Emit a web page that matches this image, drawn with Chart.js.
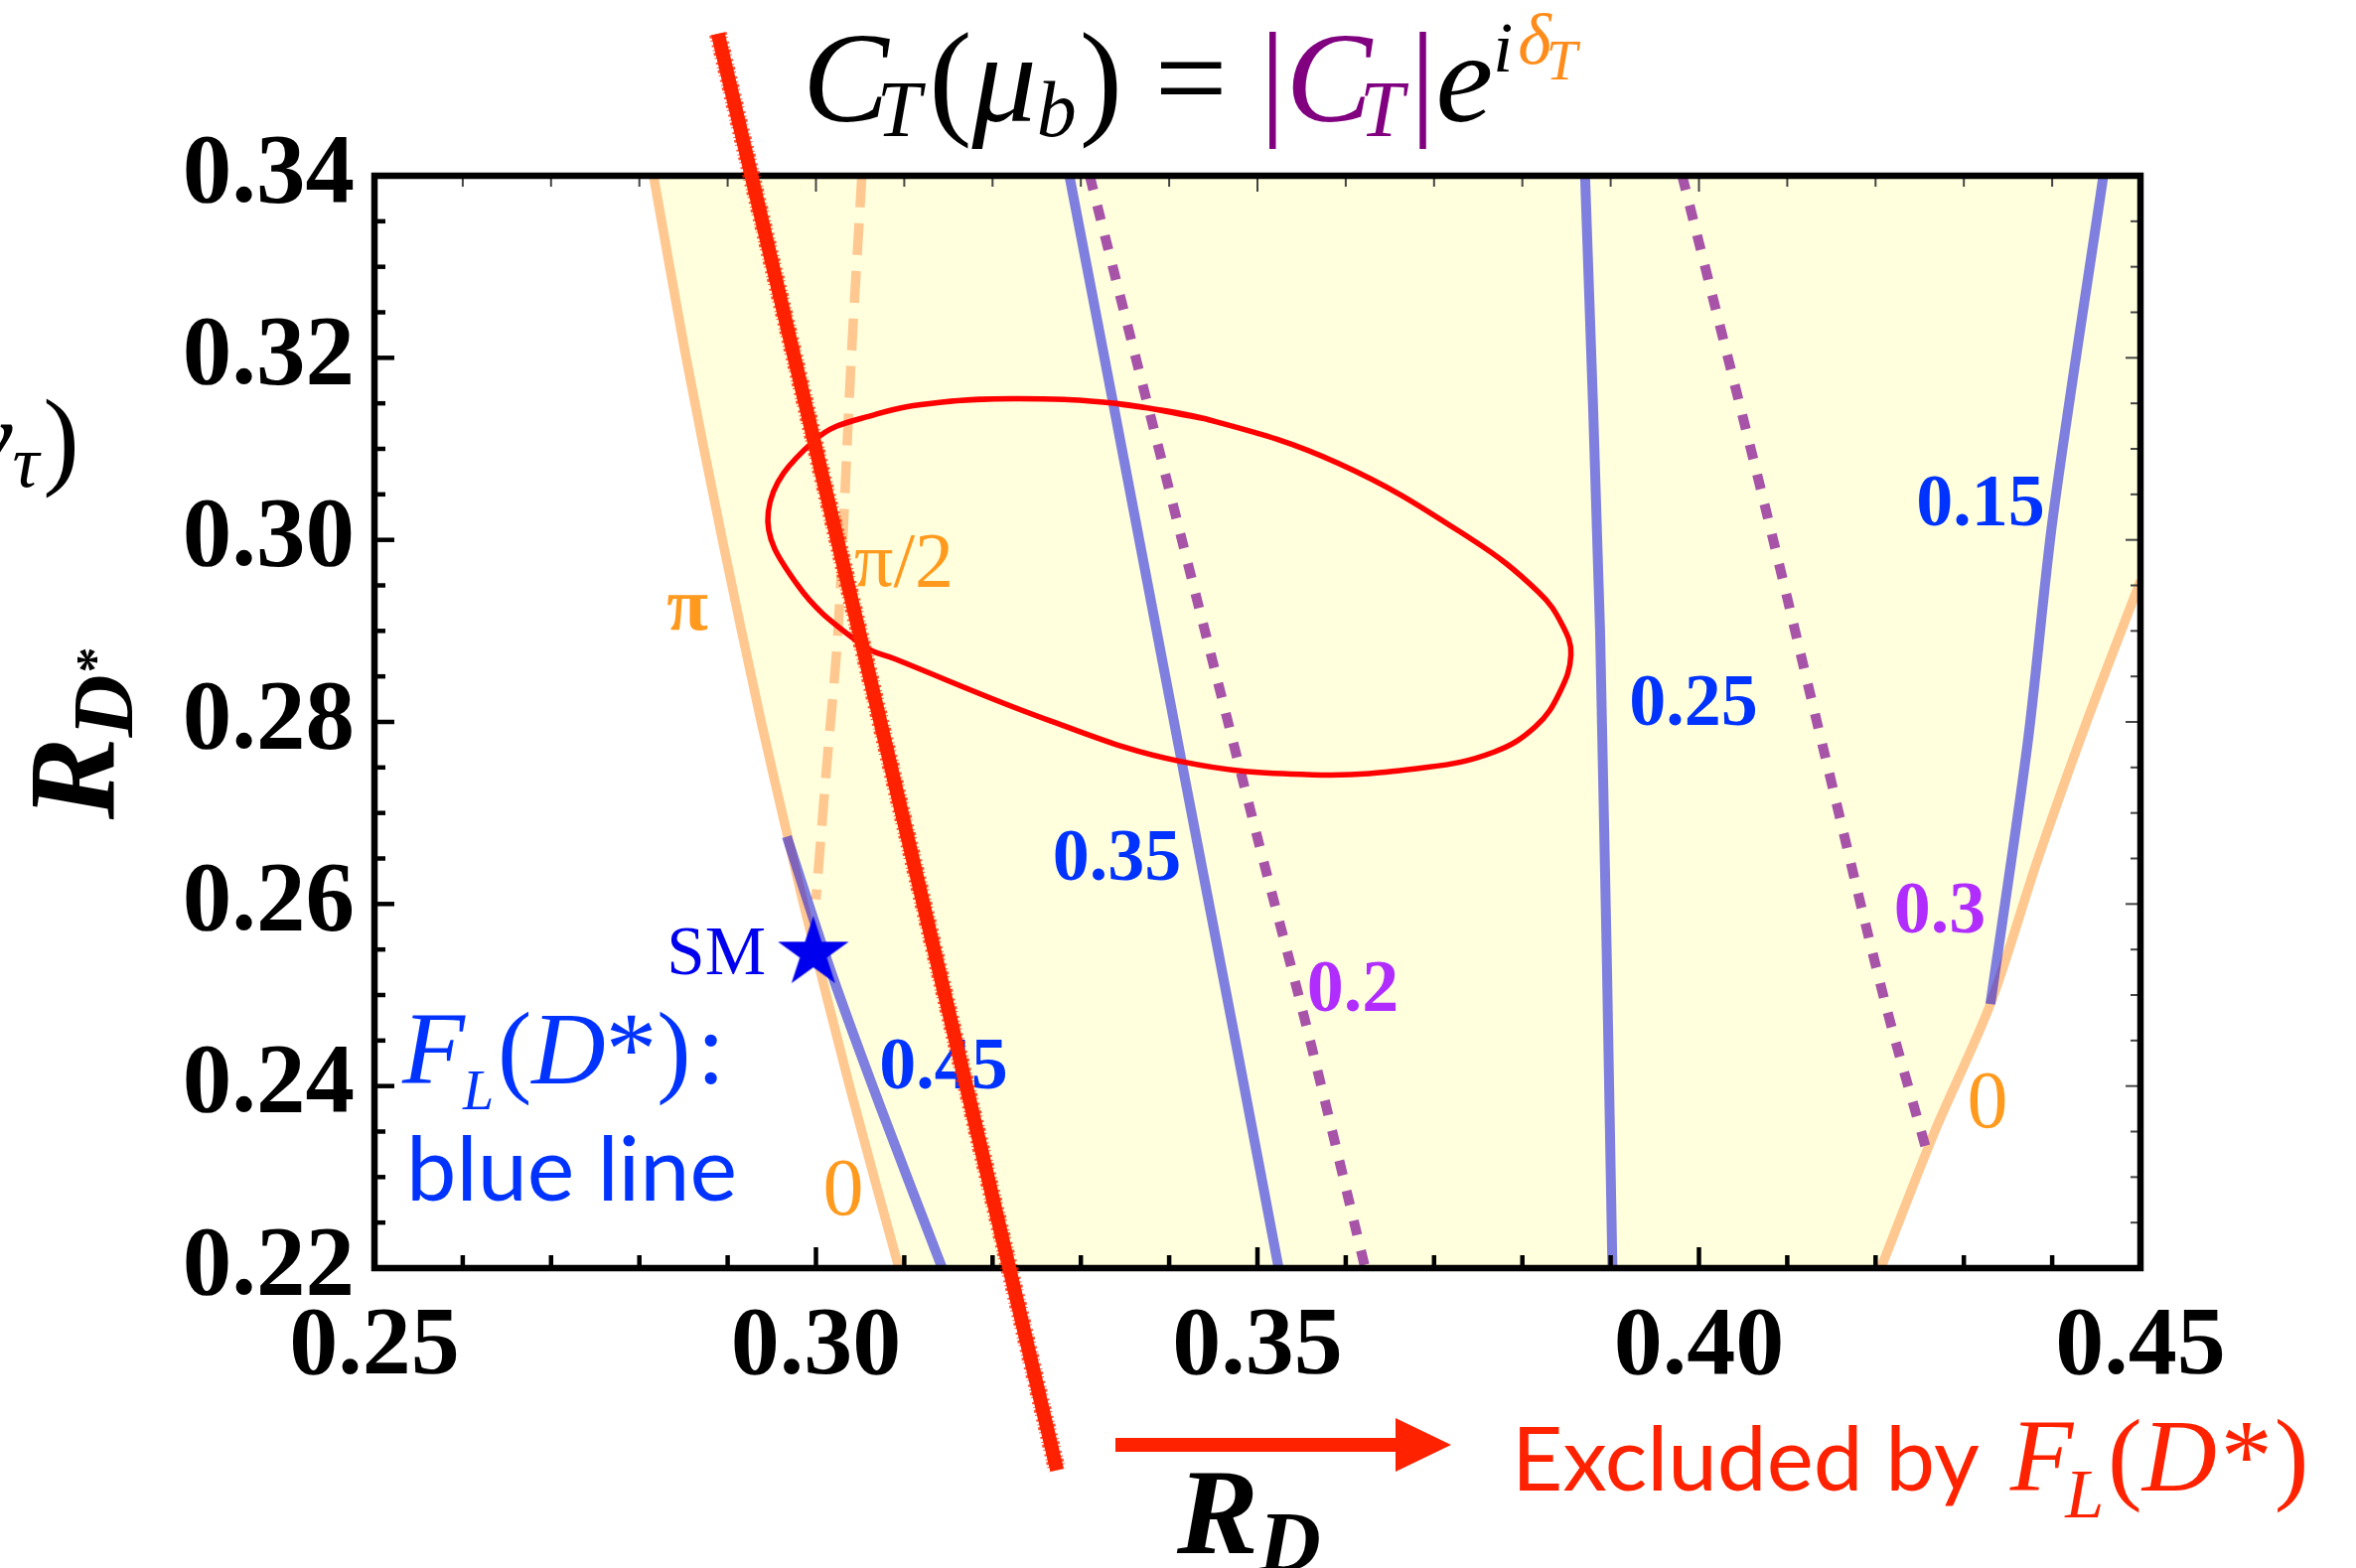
<!DOCTYPE html>
<html>
<head>
<meta charset="utf-8">
<title>C_T contours in the R_D – R_D* plane</title>
<script src="https://cdn.jsdelivr.net/npm/chart.js@4.4.1/dist/chart.umd.min.js"></script>
<style>
  html, body { margin: 0; padding: 0; background: #ffffff; }
  canvas { display: block; }
</style>
</head>
<body>
<canvas id="chart" width="2372" height="1579"></canvas>
<script>
// ---------------------------------------------------------------------------
// Axis ranges
const RD_RANGE  = [0.25, 0.45];
const RDS_RANGE = [0.22, 0.34];

// Phase contours of delta_T (orange)
// left branch (delta_T = pi, continuing to 0 at the bottom)
const PHASE_LEFT_RD   = [0.2816, 0.2853, 0.2894, 0.2938, 0.2968, 0.2986, 0.3038, 0.3094];
const PHASE_LEFT_RDS  = [0.3400, 0.3200, 0.3000, 0.2800, 0.2674, 0.2600, 0.2400, 0.2200];
// right branch (delta_T = 0)
const PHASE_RIGHT_RD  = [0.4206, 0.4267, 0.4330, 0.4384, 0.4439, 0.4500];
const PHASE_RIGHT_RDS = [0.2200, 0.2350, 0.2490, 0.2650, 0.2800, 0.2955];
// delta_T = pi/2
const PHASE_HALF_RD   = [0.3052, 0.3040, 0.3025, 0.3012, 0.3000];
const PHASE_HALF_RDS  = [0.3400, 0.3200, 0.2900, 0.2750, 0.2605];

// F_L(D*) contours (blue)
const FL_LEVELS = [0.45, 0.35, 0.25, 0.15];
const FL_045_RD  = [0.2967, 0.3018, 0.3073, 0.3143];
const FL_045_RDS = [0.2674, 0.2523, 0.2377, 0.2200];
const FL_035_RD  = [0.3287, 0.3337, 0.3414, 0.3477, 0.3524];
const FL_035_RDS = [0.3400, 0.3148, 0.2757, 0.2440, 0.2200];
const FL_025_RD  = [0.3871, 0.3888, 0.3902];
const FL_025_RDS = [0.3400, 0.2900, 0.2200];
const FL_015_RD  = [0.4458, 0.4401, 0.4372, 0.4330];
const FL_015_RDS = [0.3400, 0.3026, 0.2775, 0.2490];

// |C_T| contours (purple, dotted)
const CT_LEVELS = [0.2, 0.3];
const CT_02_RD  = [0.3310, 0.3381, 0.3501, 0.3557, 0.3622];
const CT_02_RDS = [0.3400, 0.3128, 0.2669, 0.2460, 0.2200];
const CT_03_RD  = [0.3981, 0.4074, 0.4143, 0.4211, 0.4261];
const CT_03_RDS = [0.3400, 0.3040, 0.2762, 0.2491, 0.2318];

// Measured R_D – R_D* contour (red ellipse), traced clockwise from its left end
const MEAS_RD  = [0.2946, 0.2998, 0.3068, 0.3140, 0.3231, 0.3340, 0.3441, 0.3592, 0.3742,
                  0.3818, 0.3845, 0.3855, 0.3842, 0.3815, 0.3768, 0.3691, 0.3562, 0.3411,
                  0.3266, 0.3090, 0.3053, 0.2978];
const MEAS_RDS = [0.3031, 0.3109, 0.3138, 0.3151, 0.3155, 0.3150, 0.3133, 0.3084, 0.3001,
                  0.2943, 0.2907, 0.2874, 0.2832, 0.2795, 0.2767, 0.2750, 0.2742, 0.2757,
                  0.2801, 0.2869, 0.2884, 0.2952];

// F_L(D*) exclusion boundary (thick red line)
const EXCL_RD  = [0.2889, 0.3273];
const EXCL_RDS = [0.3556, 0.1978];

// Standard Model point
const SM_RD  = 0.2997;
const SM_RDS = 0.2546;

// Phase labels
const PHASE_LABELS = ['π', 'π/2', '0', '0'];

// ---------------------------------------------------------------------------
const SERIF = '"Liberation Serif", "Times New Roman", serif';
const SANS  = 'Lato, "Open Sans", sans-serif';

const pts = (xs, ys) => xs.map((v, i) => ({ x: v, y: ys[i] }));
const isMultiple = (v, step) => Math.abs(v / step - Math.round(v / step)) < 1e-6;

// allowed region: left branch down, along the bottom, right branch up, top-right corner
const allowedRegion = [
  ...pts(PHASE_LEFT_RD, PHASE_LEFT_RDS),
  ...pts(PHASE_RIGHT_RD, PHASE_RIGHT_RDS),
  { x: RD_RANGE[1], y: RDS_RANGE[1] }
];

// closed ellipse path: start and finish on the flat top so the spline seam is invisible
const ellipsePts = pts(MEAS_RD, MEAS_RDS);
const SEAM = 5;
const ellipseClosed = [
  ...ellipsePts.slice(SEAM), ...ellipsePts.slice(0, SEAM),
  ellipsePts[SEAM], ellipsePts[SEAM + 1]
];

function starImage(R, color) {
  const size = Math.ceil(2 * R + 4);
  const c = document.createElement('canvas');
  c.width = size; c.height = size;
  const g = c.getContext('2d');
  const cx = size / 2, cy = size / 2, r = R * 0.382;
  g.fillStyle = color;
  g.beginPath();
  for (let i = 0; i < 10; i++) {
    const ang = -Math.PI / 2 + i * Math.PI / 5;
    const rr = i % 2 ? r : R;
    g.lineTo(cx + rr * Math.cos(ang), cy + rr * Math.sin(ang));
  }
  g.closePath();
  g.fill();
  return c;
}

function lineDs(data, color, width, dash, order, extra) {
  return Object.assign({
    data, showLine: true, borderColor: color, borderWidth: width,
    borderDash: dash || [], pointRadius: 0, pointHoverRadius: 0,
    tension: 0.3, fill: false, order, borderCapStyle: 'butt', borderJoinStyle: 'round'
  }, extra || {});
}

const BLUE_LINE = 'rgba(0, 0, 225, 0.5)';
const PURPLE_DOT = '#A653A8';
const ORANGE_LINE = 'rgb(255, 200, 145)';
const EXCL_RED = '#FF2200';

const datasets = [
  // 0: exclusion boundary, allowed past the frame
  lineDs(pts(EXCL_RD, EXCL_RDS), EXCL_RED, 14, null, 0, { tension: 0, clip: false }),
  // 1: frayed edge of the boundary stroke
  lineDs(pts(EXCL_RD, EXCL_RDS), 'rgba(255, 34, 0, 0.75)', 18, [3, 2, 1, 4, 2, 3, 1, 2], -1,
         { tension: 0, clip: false }),
  // 2: SM point
  { data: [{ x: SM_RD, y: SM_RDS }], showLine: false, pointStyle: starImage(37.5, '#0000EE'),
    pointRadius: 20, pointHoverRadius: 20, order: 1 },
  // 3: measurement ellipse
  lineDs(ellipseClosed, '#FF0000', 5.5, null, 2, { tension: 0.4 }),
  // F_L(D*) contours
  lineDs(pts(FL_045_RD, FL_045_RDS), BLUE_LINE, 10, null, 3),
  lineDs(pts(FL_035_RD, FL_035_RDS), BLUE_LINE, 10, null, 3),
  lineDs(pts(FL_025_RD, FL_025_RDS), BLUE_LINE, 10, null, 3),
  lineDs(pts(FL_015_RD, FL_015_RDS), BLUE_LINE, 10, null, 3),
  // |C_T| contours
  lineDs(pts(CT_02_RD, CT_02_RDS), PURPLE_DOT, 10, [15, 16], 4),
  lineDs(pts(CT_03_RD, CT_03_RDS), PURPLE_DOT, 10, [15, 16], 4),
  // phase contours
  lineDs(pts(PHASE_HALF_RD, PHASE_HALF_RDS), ORANGE_LINE, 9.5, [32, 16], 5),
  lineDs(pts(PHASE_LEFT_RD, PHASE_LEFT_RDS), ORANGE_LINE, 9.5, null, 6),
  lineDs(pts(PHASE_RIGHT_RD, PHASE_RIGHT_RDS), ORANGE_LINE, 9.5, null, 6),
  // allowed region
  { data: allowedRegion, showLine: true, fill: 'shape', backgroundColor: '#FFFFDD',
    borderColor: 'rgba(0,0,0,0)', borderWidth: 0, pointRadius: 0, tension: 0, order: 7 }
];

// ---------------------------------------------------------------------------
// text helpers
function drawRuns(ctx, x, y, runs, align) {
  ctx.textBaseline = 'alphabetic';
  ctx.textAlign = 'left';
  let w = 0;
  for (const r of runs) { ctx.font = r.f; w += ctx.measureText(r.t).width + (r.dx || 0); }
  let cx = align === 'center' ? x - w / 2 : align === 'right' ? x - w : x;
  for (const r of runs) {
    ctx.font = r.f;
    cx += (r.dx || 0);
    ctx.fillStyle = r.c || '#000';
    ctx.fillText(r.t, cx, y + (r.dy || 0));
    cx += ctx.measureText(r.t).width;
  }
}

// contour label anchors: [text, R_D, R_D*, font, colour]  (centre x, baseline y)
const LABEL_BLUE = '#0033FF';
const LABEL_PURPLE = '#B02CFF';
const LABEL_ORANGE = '#FF9A1E';
const contourLabels = [
  [FL_LEVELS[0].toFixed(2), 0.31446, 0.23975, `bold 74px ${SERIF}`, LABEL_BLUE],
  [FL_LEVELS[1].toFixed(2), 0.33409, 0.26265, `bold 74px ${SERIF}`, LABEL_BLUE],
  [FL_LEVELS[2].toFixed(2), 0.39939, 0.27967, `bold 74px ${SERIF}`, LABEL_BLUE],
  [FL_LEVELS[3].toFixed(2), 0.43190, 0.30160, `bold 74px ${SERIF}`, LABEL_BLUE],
  [String(CT_LEVELS[0]), 0.36080, 0.24826, `bold 74px ${SERIF}`, LABEL_PURPLE],
  [String(CT_LEVELS[1]), 0.42728, 0.25687, `bold 74px ${SERIF}`, LABEL_PURPLE],
  [PHASE_LABELS[0], 0.28543, 0.29015, `bold 76px ${SERIF}`, LABEL_ORANGE],
  [PHASE_LABELS[1], 0.30996, 0.29495, `78px ${SERIF}`, LABEL_ORANGE],
  [PHASE_LABELS[2], 0.30310, 0.22589, `82px ${SERIF}`, LABEL_ORANGE],
  [PHASE_LABELS[3], 0.43268, 0.23549, `82px ${SERIF}`, LABEL_ORANGE]
];

function strokeLine(ctx, x1, y1, x2, y2) {
  ctx.beginPath(); ctx.moveTo(x1, y1); ctx.lineTo(x2, y2); ctx.stroke();
}

const decorations = {
  id: 'decorations',
  beforeDatasetDraw(chart, args) {
    if (args.index !== 0) return;   // just before the exclusion boundary
    const { ctx, chartArea: a, scales: { x, y } } = chart;
    ctx.save();
    ctx.lineCap = 'butt';

    // inward tick marks: heavy on bottom/left, light on top/right
    x.ticks.forEach(t => {
      const p = x.getPixelForValue(t.value);
      const major = isMultiple(t.value, 0.05);
      ctx.strokeStyle = '#000'; ctx.lineWidth = 4.5;
      strokeLine(ctx, p, a.bottom, p, a.bottom - (major ? 21 : 13));
      ctx.strokeStyle = '#444'; ctx.lineWidth = 2;
      strokeLine(ctx, p, a.top, p, a.top + (major ? 16 : 11));
    });
    y.ticks.forEach(t => {
      const p = y.getPixelForValue(t.value);
      const major = isMultiple(t.value, 0.02);
      ctx.strokeStyle = '#000'; ctx.lineWidth = 4.5;
      strokeLine(ctx, a.left, p, a.left + (major ? 20 : 11), p);
      ctx.strokeStyle = '#444'; ctx.lineWidth = 2;
      strokeLine(ctx, a.right, p, a.right - (major ? 15 : 10), p);
    });

    // frame
    ctx.strokeStyle = '#000';
    ctx.lineWidth = 6.5;
    ctx.strokeRect(a.left, a.top, a.right - a.left, a.bottom - a.top);

    // contour labels
    contourLabels.forEach(([txt, rd, rds, font, color]) => {
      drawRuns(ctx, x.getPixelForValue(rd), y.getPixelForValue(rds),
        [{ t: txt, f: font, c: color }], 'center');
    });

    // SM label
    drawRuns(ctx, x.getPixelForValue(0.29432), y.getPixelForValue(0.25229),
      [{ t: 'SM', f: `69px ${SERIF}`, c: '#0000EE' }], 'right');

    // in-plot legend for the blue lines
    drawRuns(ctx, 405, 1091, [
      { t: 'F', f: `italic 103px ${SERIF}`, c: LABEL_BLUE },
      { t: 'L', f: `italic 56px ${SERIF}`, c: LABEL_BLUE, dy: 26, dx: -2 },
      { t: '(', f: `103px ${SERIF}`, c: LABEL_BLUE, dx: 4 },
      { t: 'D', f: `italic 103px ${SERIF}`, c: LABEL_BLUE },
      { t: '*', f: `103px ${SERIF}`, c: LABEL_BLUE },
      { t: ')', f: `103px ${SERIF}`, c: LABEL_BLUE },
      { t: ':', f: `103px ${SERIF}`, c: LABEL_BLUE, dx: 6 }
    ]);
    drawRuns(ctx, 409, 1209, [{ t: 'blue line', f: `90px ${SANS}`, c: LABEL_BLUE }]);

    // title
    drawRuns(ctx, 808, 122, [
      { t: 'C', f: `italic 130px ${SERIF}`, c: '#000' },
      { t: 'T', f: `italic 80px ${SERIF}`, c: '#000', dy: 15, dx: -12 },
      { t: '(', f: `130px ${SERIF}`, c: '#000', dx: 8 },
      { t: 'μ', f: `italic 130px ${SERIF}`, c: '#000' },
      { t: 'b', f: `italic 80px ${SERIF}`, c: '#000', dy: 15 },
      { t: ')', f: `130px ${SERIF}`, c: '#000', dx: 3 },
      { t: ' = ', f: `130px ${SERIF}`, c: '#000' },
      { t: '|', f: `130px ${SERIF}`, c: '#800080' },
      { t: 'C', f: `italic 130px ${SERIF}`, c: '#800080' },
      { t: 'T', f: `italic 80px ${SERIF}`, c: '#800080', dy: 15, dx: -12 },
      { t: '|', f: `130px ${SERIF}`, c: '#800080', dx: 6 },
      { t: 'e', f: `italic 130px ${SERIF}`, c: '#000' },
      { t: 'i', f: `italic 72px ${SERIF}`, c: '#000', dy: -50 },
      { t: 'δ', f: `italic 72px ${SERIF}`, c: '#FF8C1A', dy: -58, dx: 5 },
      { t: 'T', f: `italic 56px ${SERIF}`, c: '#FF8C1A', dy: -42, dx: -5 }
    ]);

    // axis titles
    drawRuns(ctx, 1185, 1564, [
      { t: 'R', f: `italic bold 123px ${SERIF}`, c: '#000' },
      { t: 'D', f: `italic bold 87px ${SERIF}`, c: '#000', dy: 18 }
    ]);
    ctx.save();
    ctx.translate(115, 825);
    ctx.rotate(-Math.PI / 2);
    drawRuns(ctx, 0, 0, [
      { t: 'R', f: `italic bold 124px ${SERIF}`, c: '#000' },
      { t: 'D', f: `italic bold 87px ${SERIF}`, c: '#000', dy: 18 },
      { t: '*', f: `bold 52px ${SERIF}`, c: '#000', dy: -2, dx: 2 }
    ]);
    ctx.restore();

    // neighbouring panel's axis title, cut by the figure edge
    drawRuns(ctx, 80, 478, [
      { t: 'ν', f: `italic 110px ${SERIF}`, c: '#000' },
      { t: 'τ', f: `italic 75px ${SERIF}`, c: '#000', dy: 12 },
      { t: ')', f: `110px ${SERIF}`, c: '#000', dx: 4 }
    ], 'right');

    // exclusion arrow and note
    const ay = a.bottom + 178;
    ctx.fillStyle = EXCL_RED;
    ctx.fillRect(1123, ay - 7, 1407 - 1123, 14);
    ctx.beginPath();
    ctx.moveTo(1405, ay - 27); ctx.lineTo(1461, ay); ctx.lineTo(1405, ay + 27);
    ctx.closePath(); ctx.fill();
    drawRuns(ctx, 1522, 1501, [
      { t: 'Excluded by ', f: `89px ${SANS}`, c: EXCL_RED },
      { t: 'F', f: `italic 104px ${SERIF}`, c: EXCL_RED, dx: 8 },
      { t: 'L', f: `italic 70px ${SERIF}`, c: EXCL_RED, dy: 27, dx: -8 },
      { t: '(', f: `104px ${SERIF}`, c: EXCL_RED, dx: 4 },
      { t: 'D', f: `italic 104px ${SERIF}`, c: EXCL_RED },
      { t: '*', f: `104px ${SERIF}`, c: EXCL_RED, dx: 4 },
      { t: ')', f: `104px ${SERIF}`, c: EXCL_RED, dx: 2 }
    ]);

    ctx.restore();
  }
};

new Chart(document.getElementById('chart'), {
  type: 'scatter',
  data: { datasets },
  options: {
    responsive: false,
    animation: false,
    events: [],
    layout: { padding: { top: 177, right: 217, bottom: 0, left: 0 } },
    plugins: { legend: { display: false }, tooltip: { enabled: false } },
    scales: {
      x: {
        type: 'linear', min: RD_RANGE[0], max: RD_RANGE[1],
        grid: { display: false }, border: { display: false },
        ticks: {
          stepSize: 0.01, autoSkip: false, maxRotation: 0, minRotation: 0, padding: 14,
          color: '#000', font: { family: SERIF, weight: 'bold', size: 98 },
          callback: v => isMultiple(v, 0.05) ? v.toFixed(2) : ''
        },
        afterFit: s => { s.height = 302; s.paddingLeft = 0; s.paddingRight = 0; }
      },
      y: {
        type: 'linear', min: RDS_RANGE[0], max: RDS_RANGE[1],
        grid: { display: false }, border: { display: false },
        ticks: {
          stepSize: 0.005, autoSkip: false, padding: 12,
          color: '#000', font: { family: SERIF, weight: 'bold', size: 99 },
          callback: v => isMultiple(v, 0.02) ? v.toFixed(2) : ''
        },
        afterFit: s => { s.width = 377; s.paddingTop = 0; s.paddingBottom = 0; }
      }
    }
  },
  plugins: [decorations]
});
</script>
</body>
</html>
